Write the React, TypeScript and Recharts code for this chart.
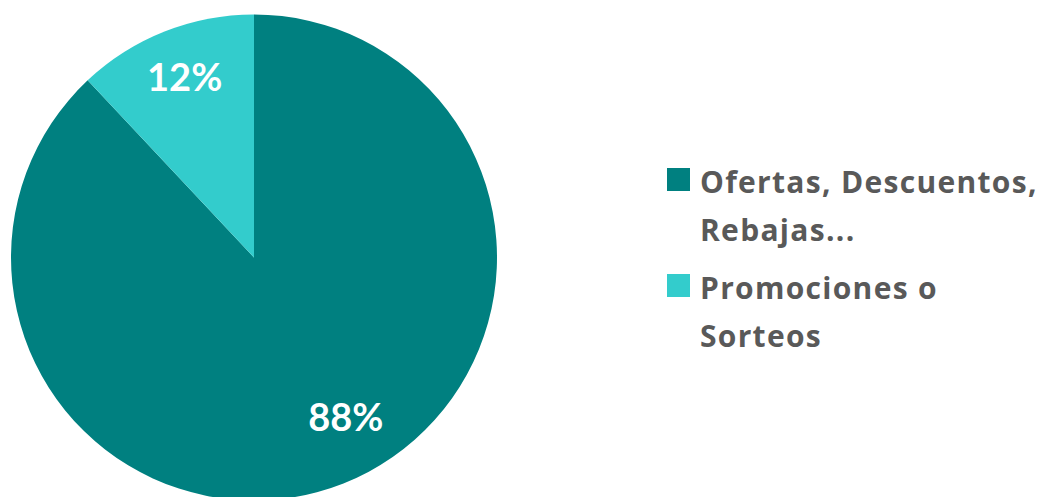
import { PieChart, Pie, Cell, Legend } from 'recharts';

const categories = ['Ofertas, Descuentos, Rebajas...', 'Promociones o Sorteos'];
const shares = [88, 12];
const COLORS = ['#008080', '#33CCCC'];

const data = categories.map((name, i) => ({ name, value: shares[i] }));

const LABEL_FONT = 'Lato, "Open Sans", sans-serif';
const LEGEND_FONT = '"Open Sans", Lato, sans-serif';
const RADIAN = Math.PI / 180;
// Excel puts the big slice label a bit off its bisector
const labelAngleShift = [7.6, 0];

function renderLabel(props: any) {
  const { cx, cy, midAngle, outerRadius, index, value } = props;
  const r = outerRadius * 0.775;
  const a = (midAngle + labelAngleShift[index]) * RADIAN;
  const x = cx + r * Math.cos(a);
  const y = cy - r * Math.sin(a) - 6;
  return (
    <text
      x={x}
      y={y}
      fill="#ffffff"
      textAnchor="middle"
      dominantBaseline="central"
      fontFamily={LABEL_FONT}
      fontWeight={700}
      fontSize={38}
    >
      {`${value}%`}
    </text>
  );
}

function LegendContent() {
  return (
    <ul style={{ listStyle: 'none', margin: 0, padding: 0 }}>
      {data.map((d, i) => (
        <li
          key={d.name}
          style={{ display: 'flex', alignItems: 'flex-start', marginBottom: 10 }}
        >
          <span
            style={{
              width: 23,
              height: 23,
              marginTop: 10,
              marginRight: 10,
              background: COLORS[i],
              flex: 'none',
            }}
          />
          <span
            style={{
              width: 350,
              fontFamily: LEGEND_FONT,
              fontWeight: 700,
              fontSize: 30,
              letterSpacing: 1.3,
              lineHeight: '48px',
              color: '#595959',
            }}
          >
            {d.name}
          </span>
        </li>
      ))}
    </ul>
  );
}

export default function App() {
  return (
    <div style={{ position: 'absolute', left: 0, top: 0, width: 1046, height: 497, background: '#fff' }}>
      <PieChart width={1046} height={497} margin={{ top: 0, right: 0, bottom: 0, left: 0 }}>
        <Pie
          data={data}
          dataKey="value"
          nameKey="name"
          cx={254}
          cy={257.5}
          outerRadius={243}
          startAngle={90}
          endAngle={-270}
          stroke="none"
          label={renderLabel}
          labelLine={false}
          isAnimationActive={false}
        >
          {data.map((d, i) => (
            <Cell key={d.name} fill={COLORS[i]} />
          ))}
        </Pie>
        <Legend
          content={<LegendContent />}
          wrapperStyle={{ left: 667, top: 158, width: 390, bottom: 'auto', right: 'auto' }}
        />
      </PieChart>
    </div>
  );
}
